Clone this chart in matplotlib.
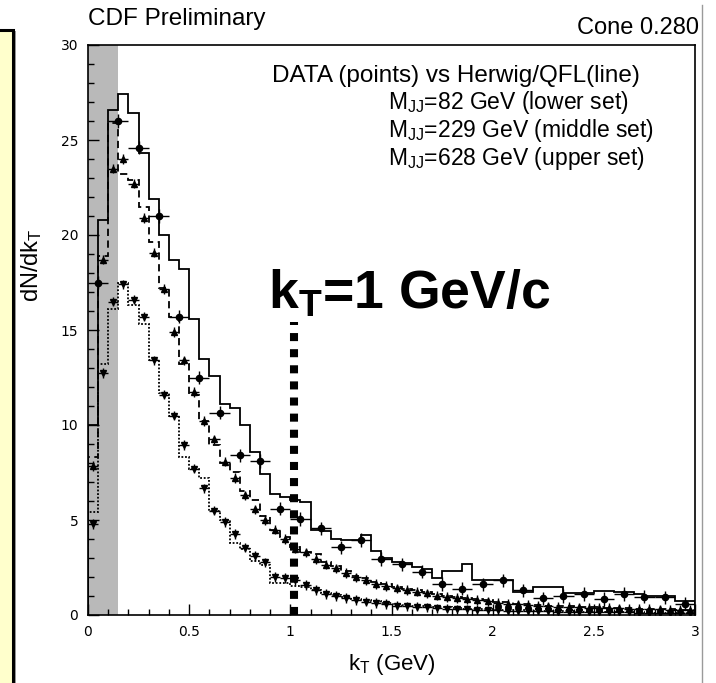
import numpy as np
import matplotlib
matplotlib.use("Agg")
import matplotlib.pyplot as plt
from matplotlib.patches import Rectangle
from matplotlib.lines import Line2D

plt.rcParams['font.family'] = ['Liberation Sans', 'DejaVu Sans']
plt.rcParams['mathtext.fontset'] = 'custom'
plt.rcParams['mathtext.rm'] = 'Liberation Sans'
plt.rcParams['mathtext.bf'] = 'Liberation Sans:bold'
plt.rcParams['mathtext.it'] = 'Liberation Sans:italic'

# bin edges: 60 bins of 0.05 for the Herwig lines and the low/middle data,
# 30 bins of 0.1 for the high-mass data
edges_fine = np.round(np.arange(0, 3.0001, 0.05), 3)
edges_wide = np.round(np.arange(0, 3.0001, 0.1), 3)

# Herwig/QFL histograms
mc_628 = [10.0, 20.8, 26.6, 27.4, 26.4, 24.3, 21.9, 20.0, 18.7, 18.2,
          15.6, 13.5, 12.6, 11.1, 10.9, 10.0, 8.6, 7.4, 6.35, 6.2,
          6.05, 5.95, 4.5, 4.4, 4.0, 3.95, 3.95, 4.2, 3.35, 3.0,
          2.8, 2.75, 2.55, 2.4, 1.95, 2.3, 2.3, 2.7, 1.85, 1.85,
          1.82, 1.82, 1.23, 1.23, 1.5, 1.5, 1.5, 1.18, 1.18, 1.18,
          1.28, 1.28, 1.2, 1.2, 1.08, 1.02, 1.02, 1.02, 0.72, 0.72]
mc_229 = [8.3, 18.9, 25.9, 23.2, 22.9, 21.5, 19.65, 17.2, 15.7, 13.2,
          11.6, 10.2, 8.95, 8.0, 7.55, 6.55, 6.05, 5.2, 4.5, 4.1,
          3.6, 3.3, 3.2, 2.8, 2.6, 2.3, 2.05, 1.95, 1.75, 1.65,
          1.5, 1.35, 1.3, 1.2, 1.1, 1.0, 0.95, 0.9, 0.82, 0.78,
          0.7, 0.66, 0.6, 0.57, 0.53, 0.5, 0.48, 0.46, 0.43, 0.41,
          0.4, 0.38, 0.38, 0.35, 0.34, 0.33, 0.31, 0.3, 0.28, 0.27]
mc_82 = [5.4, 13.2, 16.1, 17.5, 16.3, 15.3, 13.4, 11.7, 10.5, 8.3,
         7.7, 7.2, 5.5, 5.0, 3.8, 3.45, 2.86, 2.63, 1.7, 1.7,
         1.55, 1.5, 1.3, 1.15, 1.05, 0.95, 0.85, 0.8, 0.72, 0.65,
         0.6, 0.55, 0.5, 0.45, 0.42, 0.4, 0.36, 0.34, 0.32, 0.3,
         0.28, 0.27, 0.25, 0.24, 0.22, 0.21, 0.2, 0.19, 0.18, 0.17,
         0.16, 0.16, 0.15, 0.14, 0.14, 0.13, 0.12, 0.12, 0.11, 0.1]

# data points
data_628 = [17.5, 26.0, 24.6, 21.0, 15.7, 12.5, 10.65, 8.4, 8.1, 5.6,
            5.05, 4.56, 3.56, 3.95, 2.95, 2.67, 2.28, 1.63, 1.38, 1.62,
            1.82, 1.3, 0.88, 1.0, 1.1, 0.84, 1.1, 0.96, 0.93, 0.6]
data_229 = [7.84, 18.7, 23.5, 24.0, 22.7, 20.9, 19.07, 17.15, 14.9, 13.4,
            11.75, 10.2, 9.25, 8.07, 7.2, 6.3, 5.56, 5.0, 4.5, 4.0,
            3.5, 3.3, 2.95, 2.65, 2.45, 2.2, 1.98, 1.84, 1.62, 1.53,
            1.4, 1.32, 1.23, 1.14, 1.02, 0.95, 0.9, 0.84, 0.78, 0.72,
            0.64, 0.6, 0.56, 0.52, 0.48, 0.46, 0.44, 0.42, 0.4, 0.38,
            0.37, 0.36, 0.35, 0.34, 0.32, 0.31, 0.3, 0.28, 0.27, 0.26]
data_82 = [4.8, 12.75, 16.5, 17.4, 16.6, 15.7, 13.4, 11.6, 10.5, 8.95,
           7.7, 6.67, 5.5, 4.9, 4.26, 3.55, 3.1, 2.77, 2.0, 1.95,
           1.85, 1.58, 1.32, 1.1, 1.0, 0.9, 0.8, 0.7, 0.62, 0.58,
           0.5, 0.46, 0.44, 0.4, 0.35, 0.34, 0.3, 0.3, 0.26, 0.24,
           0.24, 0.22, 0.22, 0.2, 0.2, 0.19, 0.18, 0.17, 0.17, 0.16,
           0.15, 0.15, 0.14, 0.14, 0.13, 0.13, 0.12, 0.12, 0.11, 0.11]

err_628 = 0.35
err_229 = 0.25
err_82 = 0.25

kt_cut = 1.02
kt_cut_top = 15.4
excluded = 0.15

#%% figure
fig = plt.figure(figsize=(7.16, 6.83), dpi=100)
W, H = 716, 683

# yellow slide panel on the left
fig.patches.append(Rectangle((14 / W, 0), 2 / W, (H - 31) / H, transform=fig.transFigure,
                             facecolor='#9a9a9a', edgecolor='none', zorder=0))
fig.patches.append(Rectangle((-0.05, -0.05), 0.05 + 13 / W, 0.05 + (H - 30) / H,
                             transform=fig.transFigure, facecolor='#ffffcc',
                             edgecolor='black', linewidth=2.2, zorder=1))
fig.lines.append(Line2D([702 / W, 702 / W], [0, (H - 5) / H], transform=fig.transFigure,
                        color='#9a9a9a', linewidth=1))

ax = fig.add_axes([88 / W, (H - 615) / H, (695 - 88) / W, (615 - 45) / H])

ax.axvspan(0, excluded, color='#b9b9b9', zorder=0, linewidth=0)

ax.stairs(mc_628, edges_fine, color='k', linewidth=1.3, linestyle='-')
ax.stairs(mc_229, edges_fine, color='k', linewidth=1.3, linestyle=(0, (4, 2.5)))
ax.stairs(mc_82, edges_fine, color='k', linewidth=1.3, linestyle=(0, (1, 1)))

cen_fine = (edges_fine[:-1] + edges_fine[1:]) / 2
cen_wide = (edges_wide[:-1] + edges_wide[1:]) / 2

ax.errorbar(cen_wide, data_628, xerr=0.05, yerr=err_628, fmt='o', ms=4.5,
            color='k', elinewidth=1, capsize=0)
ax.errorbar(cen_fine, data_229, xerr=0.025, yerr=err_229, fmt='^', ms=4.5,
            color='k', elinewidth=1, capsize=0)
ax.errorbar(cen_fine, data_82, xerr=0.025, yerr=err_82, fmt='v', ms=4.5,
            color='k', elinewidth=1, capsize=0)

ax.plot([kt_cut, kt_cut], [0, kt_cut_top], color='k', linewidth=5.8,
        linestyle=(0, (1, 1)), solid_capstyle='butt', dash_capstyle='butt', zorder=5)

ax.set_xlim(0, 3)
ax.set_ylim(0, 30)
ax.set_xticks(np.arange(0, 3.01, 0.5))
ax.set_xticklabels(['0', '0.5', '1', '1.5', '2', '2.5', '3'])
ax.set_xticks(np.arange(0, 3.01, 0.1), minor=True)
ax.set_yticks(np.arange(0, 31, 5))
ax.set_yticks(np.arange(0, 31, 1), minor=True)
ax.tick_params(which='both', direction='in', top=False, right=False,
               labelsize=10, pad=7)
ax.tick_params(which='major', length=8, width=1)
ax.tick_params(which='minor', length=4.5, width=1)
for lab in ax.get_xticklabels() + ax.get_yticklabels():
    lab.set_family('DejaVu Sans')
for s in ax.spines.values():
    s.set_linewidth(1.2)

ax.set_xlabel(r'k$_{\rm T}$ (GeV)', fontsize=16)
ax.xaxis.set_label_coords((392 - 88) / 607, -(652 - 615) / 570)
ax.set_ylabel(r'dN/dk$_{\rm T}$', fontsize=17)
ax.yaxis.set_label_coords(-(88 - 44) / 607, (615 - 265) / 570)

fig.text(88 / W, 1 - 25 / H, 'CDF Preliminary', fontsize=17.5, ha='left', va='baseline')
fig.text(699 / W, 1 - 34 / H, 'Cone 0.280', fontsize=17, ha='right', va='baseline')

ax.text(0.91, 28.05, 'DATA (points) vs Herwig/QFL(line)', fontsize=17.5, ha='left', va='baseline')
ax.text(1.485, 26.63, r'M$_{\rm JJ}$=82 GeV (lower set)', fontsize=16.5, ha='left', va='baseline')
ax.text(1.485, 25.16, r'M$_{\rm JJ}$=229 GeV (middle set)', fontsize=16.5, ha='left', va='baseline')
ax.text(1.485, 23.68, r'M$_{\rm JJ}$=628 GeV (upper set)', fontsize=16.5, ha='left', va='baseline')

ax.text(0.89, 16.15, r'k$_{\mathbf{T}}$=1 GeV/c', fontsize=38.5, fontweight='bold',
        ha='left', va='baseline')

fig.savefig('out.png', dpi=100)
